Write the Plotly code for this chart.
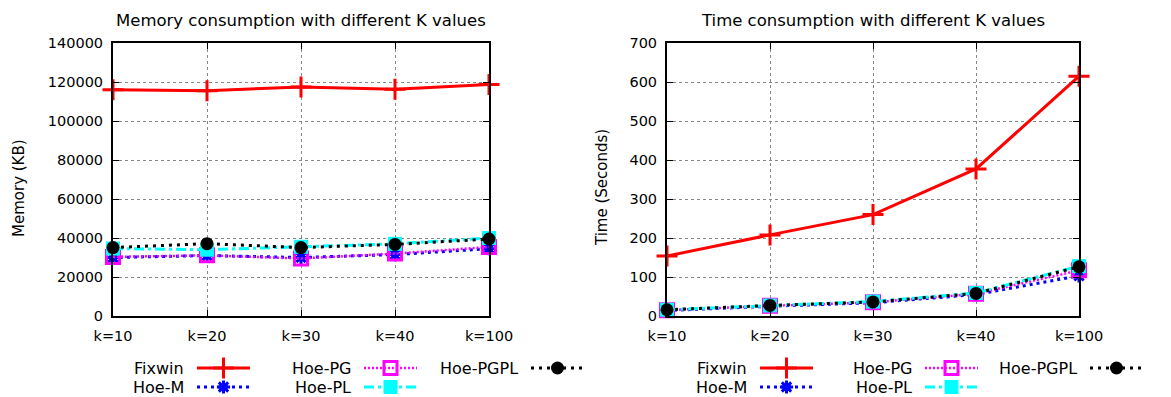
import plotly.graph_objects as go

# The page body has an 8px margin, so the figure is drawn 8px smaller and all
# layout pixel positions (measured on the 1171x397 reference) are shifted by 8.
OFF = 8
W, H = 1171 - OFF, 397 - OFF

# ---------------- data ----------------
k_labels = ["k=10", "k=20", "k=30", "k=40", "k=100"]
series_names = ["Fixwin", "Hoe-M", "Hoe-PG", "Hoe-PL", "Hoe-PGPL"]

mem_fixwin = [116000, 115500, 117500, 116300, 118700]
mem_hoe_m = [30000, 31000, 30000, 31500, 34500]
mem_hoe_pg = [30300, 31100, 29500, 32000, 35400]
mem_hoe_pl = [34600, 34000, 35500, 37000, 40000]
mem_hoe_pgpl = [35100, 37100, 35100, 36700, 39500]

time_fixwin = [154, 208, 260, 377, 615]
time_hoe_m = [14, 25, 34, 55, 103]
time_hoe_pg = [15, 26, 35, 57, 117]
time_hoe_pl = [16, 27, 37, 59, 128]
time_hoe_pgpl = [16, 27, 36, 58, 126]

mem_ticks = [0, 20000, 40000, 60000, 80000, 100000, 120000, 140000]
time_ticks = [0, 100, 200, 300, 400, 500, 600, 700]

# ---------------- styles ----------------
styles = {
    "Fixwin":   dict(color="#ff0000", dash="solid", lw=3, symbol="cross-thin", size=15, mlw=3),
    "Hoe-M":    dict(color="#0000ff", dash="3px,4px", lw=3, symbol="asterisk", size=11, mlw=3),
    "Hoe-PG":   dict(color="#ff00ff", dash="2px,2px", lw=2.5, symbol="square-open", size=13, mlw=3),
    "Hoe-PL":   dict(color="#00ffff", dash="10px,4px,3px,4px", lw=3, symbol="square", size=14, mlw=0),
    "Hoe-PGPL": dict(color="#000000", dash="3px,5px", lw=3, symbol="circle", size=13, mlw=0),
}

FONT = "DejaVu Sans"

# pixel layout (reference coordinates)
L1, R1 = 113, 489
L2, R2 = 667, 1079
TOP, BOT = 43, 316

def px(v):
    return v - OFF

fig = go.Figure()

def add_series(xref, yref, values_list):
    for name, vals in zip(series_names, values_list):
        s = styles[name]
        fig.add_trace(go.Scatter(
            x=k_labels, y=vals, xaxis=xref, yaxis=yref, mode="lines+markers",
            name=name, showlegend=False, cliponaxis=False,
            line=dict(color=s["color"], dash=s["dash"], width=s["lw"]),
            marker=dict(symbol=s["symbol"], size=s["size"], color=s["color"],
                        line=dict(color=s["color"], width=s["mlw"])),
        ))

add_series("x", "y", [mem_fixwin, mem_hoe_m, mem_hoe_pg, mem_hoe_pl, mem_hoe_pgpl])
add_series("x2", "y2", [time_fixwin, time_hoe_m, time_hoe_pg, time_hoe_pl, time_hoe_pgpl])

# ---------------- legends (drawn on an overlay pixel axis) ----------------
legend_rows = [368, 387]
legend_layout = {  # name: (column index, row index)
    "Fixwin": (0, 0), "Hoe-M": (0, 1), "Hoe-PG": (1, 0), "Hoe-PL": (1, 1), "Hoe-PGPL": (2, 0),
}
legend_text_right = [[185, 352, 519], [748, 913, 1078]]

annotations = []
for cols in legend_text_right:
    for name in series_names:
        ci, ri = legend_layout[name]
        xr = px(cols[ci])
        yy = px(legend_rows[ri])
        s = styles[name]
        x0, x1 = xr + 12, xr + 65
        fig.add_trace(go.Scatter(
            x=[x0, x1], y=[yy, yy], xaxis="x3", yaxis="y3", mode="lines",
            showlegend=False, hoverinfo="skip", cliponaxis=False,
            line=dict(color=s["color"], dash=s["dash"], width=s["lw"]),
        ))
        fig.add_trace(go.Scatter(
            x=[(x0 + x1) / 2], y=[yy], xaxis="x3", yaxis="y3", mode="markers",
            showlegend=False, hoverinfo="skip", cliponaxis=False,
            marker=dict(symbol=s["symbol"], size=s["size"], color=s["color"],
                        line=dict(color=s["color"], width=s["mlw"])),
        ))
        annotations.append(dict(
            x=xr, y=yy, xref="x3", yref="y3", text=name, showarrow=False,
            xanchor="right", yanchor="middle", borderpad=0,
            font=dict(family=FONT, size=16, color="black"),
        ))

# titles
annotations += [
    dict(x=px((L1 + R1) / 2), y=px(20), xref="x3", yref="y3", text="Memory consumption with different K values",
         showarrow=False, xanchor="center", yanchor="middle", font=dict(family=FONT, size=16.5, color="black")),
    dict(x=px((L2 + R2) / 2), y=px(20), xref="x3", yref="y3", text="Time consumption with different K values",
         showarrow=False, xanchor="center", yanchor="middle", font=dict(family=FONT, size=16.5, color="black")),
    dict(x=px(19), y=px(188), xref="x3", yref="y3", text="Memory (KB)", textangle=-90,
         showarrow=False, xanchor="center", yanchor="middle", font=dict(family=FONT, size=15, color="black")),
    dict(x=px(602), y=px(188), xref="x3", yref="y3", text="Time (Seconds)", textangle=-90,
         showarrow=False, xanchor="center", yanchor="middle", font=dict(family=FONT, size=15, color="black")),
]

def xdom(a, b):
    return [px(a) / W, px(b) / W]

def ydom(top, bot):
    return [(H - px(bot)) / H, (H - px(top)) / H]

common_x = dict(
    range=[0, 4], type="category", showgrid=True, gridcolor="#888888", griddash="dot", gridwidth=1,
    showline=True, linecolor="black", linewidth=2, mirror="ticks", ticks="inside", ticklen=6,
    tickcolor="black", tickwidth=1, tickfont=dict(family=FONT, size=14.5, color="black"),
    ticklabelstandoff=6,
    zeroline=False, automargin=False, fixedrange=True,
)
common_y = dict(
    showgrid=True, gridcolor="#888888", griddash="dot", gridwidth=1,
    showline=True, linecolor="black", linewidth=2, mirror="ticks", ticks="inside", ticklen=6,
    tickcolor="black", tickwidth=1, tickfont=dict(family=FONT, size=14.5, color="black"),
    ticklabelstandoff=5,
    zeroline=False, automargin=False, fixedrange=True,
)

fig.update_layout(
    width=W, height=H,
    margin=dict(l=0, r=0, t=0, b=0),
    paper_bgcolor="white", plot_bgcolor="rgba(0,0,0,0)",
    showlegend=False,
    xaxis=dict(domain=xdom(L1, R1), anchor="y", **common_x),
    yaxis=dict(domain=ydom(TOP, BOT), anchor="x", range=[0, 140000], tickvals=mem_ticks,
               tickformat="d", **common_y),
    xaxis2=dict(domain=xdom(L2, R2), anchor="y2", **common_x),
    yaxis2=dict(domain=ydom(TOP, BOT), anchor="x2", range=[0, 700], tickvals=time_ticks,
                tickformat="d", **common_y),
    xaxis3=dict(domain=[0, 1], range=[0, W], visible=False, anchor="y3", fixedrange=True),
    yaxis3=dict(domain=[0, 1], range=[H, 0], visible=False, anchor="x3", fixedrange=True),
    annotations=annotations,
)

fig.write_html("out.html")
